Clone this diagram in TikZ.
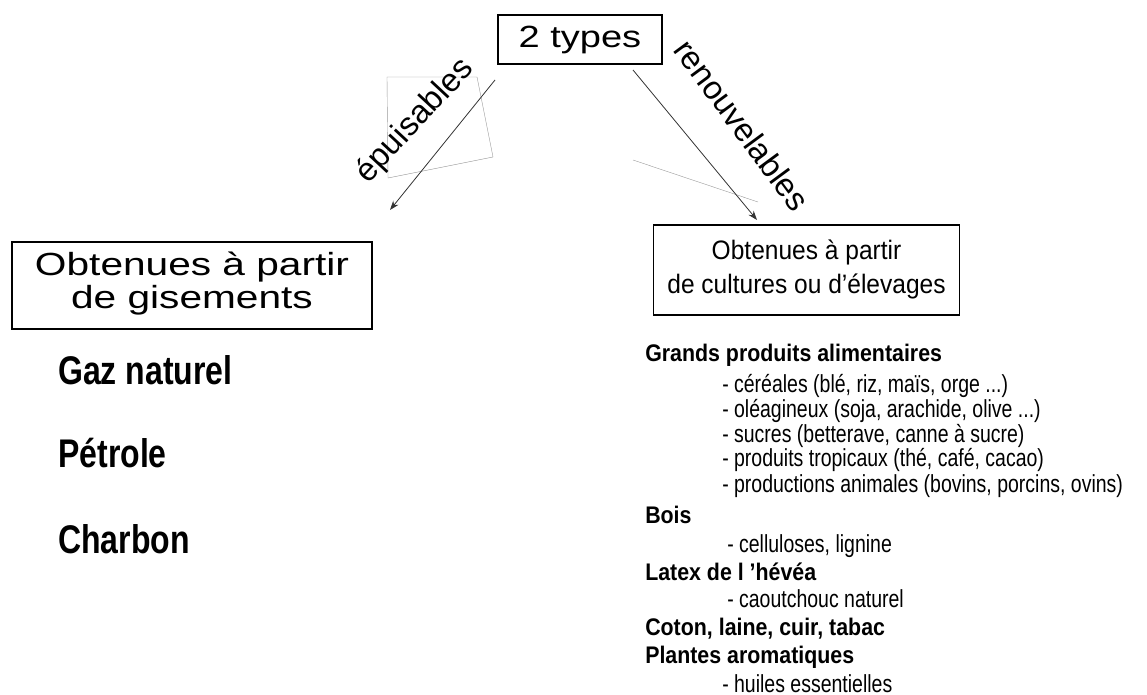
\documentclass[tikz,border=0pt]{standalone}
\usepackage{fontspec}
\setmainfont{Liberation Sans}
\usepackage{graphicx}
\usetikzlibrary{arrows.meta, calc, positioning}

\newcommand{\etire}[2]{\scalebox{#1}[1]{#2}}

\tikzset{
  boite/.style={draw, line width=0.8pt, inner sep=0pt, align=center},
  fleche/.style={line width=0.6pt, draw=black!80, -{Stealth[length=7pt, width=5pt]}},
  etiquette/.style={inner sep=0pt, font=\fontsize{24.5}{24.5}\selectfont},
  titre/.style={anchor=base west, inner sep=0pt, font=\bfseries\fontsize{30}{30}\selectfont},
  rubrique/.style={anchor=base west, inner sep=0pt, font=\bfseries\fontsize{18}{18}\selectfont},
  detail/.style={anchor=base west, inner sep=0pt, font=\fontsize{18.5}{18.5}\selectfont},
  trace/.style={draw=black!40, line width=0.3pt},
}

\begin{document}
\begin{tikzpicture}[x=0.75pt, y=-0.75pt]
\useasboundingbox (0,0) rectangle (1147,695);

% boite du haut
\node[boite, minimum width=123pt, minimum height=36.75pt] (types) at (580,39.5)
  {\fontsize{23}{23}\selectfont\etire{1.24}{2 types}};

% les deux familles
\node[boite, minimum width=270pt, minimum height=65.25pt] (gisements) at (192,285.5)
  {\fontsize{24}{25}\selectfont\etire{1.27}{\begin{tabular}{@{}c@{}}Obtenues à partir\\de gisements\end{tabular}}};
\node[boite, minimum width=230pt, minimum height=67.5pt] (cultures) at (806.5,270)
  {\fontsize{20}{25.5}\selectfont\etire{0.92}{\begin{tabular}{@{}c@{}}Obtenues à partir\\de cultures ou d’élevages\end{tabular}}};

% restes de la diapo
\draw[trace] (387,77) -- (477,77) -- (493,157) -- (388,178) -- cycle;
\draw[trace] (633,160) -- (758,202);

% fleches
\coordinate (depA) at (495,80);
\coordinate (finA) at (390,210);
\coordinate (depB) at (633,70);
\coordinate (finB) at (757,220);
\draw[fleche] (depA) -- (finA);
\draw[fleche] (depB) -- (finB);
\node[etiquette, rotate=47] (epuis) at (415,121) {épuisables};
\node[etiquette, rotate=-53.6] (renouv) at (742,125) {renouvelables};

% ressources fossiles
\node[titre] (gaz) at (58,385) {\etire{0.8}{Gaz naturel}};
\node[titre] (petrole) at (58,468) {\etire{0.8}{Pétrole}};
\node[titre] (charbon) at (58,553) {\etire{0.8}{Charbon}};

% ressources renouvelables
\node[rubrique] (grands) at (645,362) {\etire{0.89}{Grands produits alimentaires}};
\node[detail] (cereales) at (722,393) {\etire{0.79}{- céréales (blé, riz, maïs, orge ...)}};
\node[detail] (oleag) at (722,418) {\etire{0.79}{- oléagineux (soja, arachide, olive ...)}};
\node[detail] (sucres) at (722,443) {\etire{0.79}{- sucres (betterave, canne à sucre)}};
\node[detail] (tropic) at (722,467) {\etire{0.79}{- produits tropicaux (thé, café, cacao)}};
\node[detail] (animal) at (722,493) {\etire{0.79}{- productions animales (bovins, porcins, ovins)}};
\node[rubrique] (bois) at (645,523) {\etire{0.89}{Bois}};
\node[detail] (cellul) at (727,552) {\etire{0.79}{- celluloses,\ lignine}};
\node[rubrique] (latex) at (645,580) {\etire{0.89}{Latex de l ’hévéa}};
\node[detail] (caout) at (727,607) {\etire{0.79}{- caoutchouc naturel}};
\node[rubrique] (coton) at (645,635) {\etire{0.89}{Coton, laine, cuir, tabac}};
\node[rubrique] (plantes) at (645,663) {\etire{0.89}{Plantes aromatiques}};
\node[detail] (huiles) at (722,692) {\etire{0.79}{- huiles essentielles}};
\end{tikzpicture}
\end{document}
